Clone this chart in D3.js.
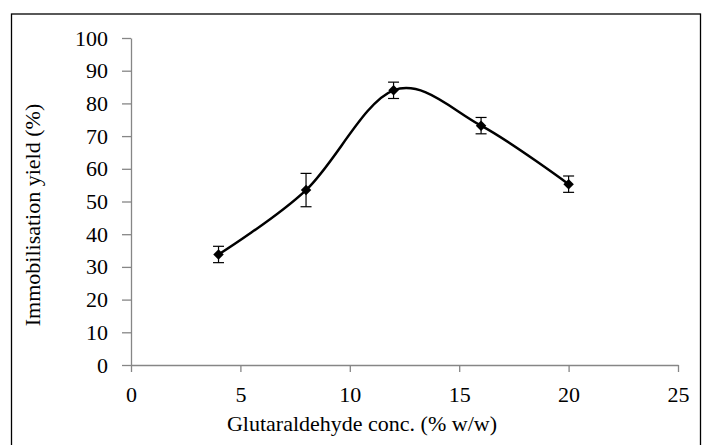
<!DOCTYPE html>
<html>
<head>
<meta charset="utf-8">
<script src="https://cdn.jsdelivr.net/npm/d3@7"></script>
<style>
  body { margin: 0; background: #fff; }
  svg text { font-family: "Liberation Serif", "Times New Roman", serif; }
</style>
</head>
<body>
<div id="chart"></div>
<script>
var w = 702;
var h = 445;

// Data
var concentration = [4, 8, 12, 16, 20];
var yieldValue = [33.8, 53.5, 84, 73.2, 55.3];
var yieldError = [2.5, 5.1, 2.5, 2.5, 2.5];

var xTicks = [0, 5, 10, 15, 20, 25];
var yTicks = [0, 10, 20, 30, 40, 50, 60, 70, 80, 90, 100];

var axisColor = "#868686";

var svg = d3.select("#chart")
  .append("svg")
  .attr("width", w)
  .attr("height", h);

// outer frame
svg.append("rect")
  .attr("x", 11.5)
  .attr("y", 14)
  .attr("width", 689)
  .attr("height", 440)
  .attr("fill", "none")
  .attr("stroke", "black")
  .attr("stroke-width", 1.3);

var x = d3.scaleLinear().domain([0, 25]).range([131, 678]);
var y = d3.scaleLinear().domain([0, 100]).range([365, 38]);

// x axis
var xAxis = svg.append("g")
  .attr("transform", "translate(0," + y(0) + ")")
  .call(d3.axisBottom(x).tickValues(xTicks).tickSizeInner(7).tickSizeOuter(0).tickPadding(14));

// y axis
var yAxis = svg.append("g")
  .attr("transform", "translate(" + x(0) + ",0)")
  .call(d3.axisLeft(y).tickValues(yTicks).tickSizeInner(9).tickSizeOuter(0).tickPadding(14));

[xAxis, yAxis].forEach(function (g) {
  g.attr("font-family", null).attr("font-size", null);
  g.select(".domain").attr("stroke", axisColor).attr("stroke-width", 1.3);
  g.selectAll(".tick line").attr("stroke", axisColor).attr("stroke-width", 1.3);
  g.selectAll(".tick text")
    .attr("fill", "black")
    .attr("font-family", "Liberation Serif")
    .attr("font-size", 22);
});

var points = concentration.map(function (c, i) {
  return { x: c, y: yieldValue[i], e: yieldError[i] };
});

// smoothed line
var line = d3.line()
  .x(d => x(d.x))
  .y(d => y(d.y))
  .curve(d3.curveCardinal.tension(0));

svg.append("path")
  .datum(points)
  .attr("d", line)
  .attr("fill", "none")
  .attr("stroke", "black")
  .attr("stroke-width", 2.5);

// error bars
var bars = svg.selectAll(".err")
  .data(points)
  .enter()
  .append("g")
  .attr("class", "err")
  .attr("stroke", "black")
  .attr("stroke-width", 1.2);

bars.append("line")
  .attr("x1", d => x(d.x)).attr("x2", d => x(d.x))
  .attr("y1", d => y(d.y + d.e)).attr("y2", d => y(d.y - d.e));
bars.append("line")
  .attr("x1", d => x(d.x) - 5.5).attr("x2", d => x(d.x) + 5.5)
  .attr("y1", d => y(d.y + d.e)).attr("y2", d => y(d.y + d.e));
bars.append("line")
  .attr("x1", d => x(d.x) - 5.5).attr("x2", d => x(d.x) + 5.5)
  .attr("y1", d => y(d.y - d.e)).attr("y2", d => y(d.y - d.e));

// diamond markers
svg.selectAll(".marker")
  .data(points)
  .enter()
  .append("path")
  .attr("class", "marker")
  .attr("d", d3.symbol(d3.symbolSquare, 55))
  .attr("transform", d => "translate(" + x(d.x) + "," + y(d.y) + ") rotate(45)")
  .attr("fill", "black");

// axis titles
svg.append("text")
  .attr("x", 362)
  .attr("y", 431)
  .attr("text-anchor", "middle")
  .attr("font-size", 22)
  .text("Glutaraldehyde conc. (% w/w)");

svg.append("text")
  .attr("transform", "translate(40,215) rotate(-90)")
  .attr("text-anchor", "middle")
  .attr("font-size", 22)
  .text("Immobilisation yield (%)");
</script>
</body>
</html>
